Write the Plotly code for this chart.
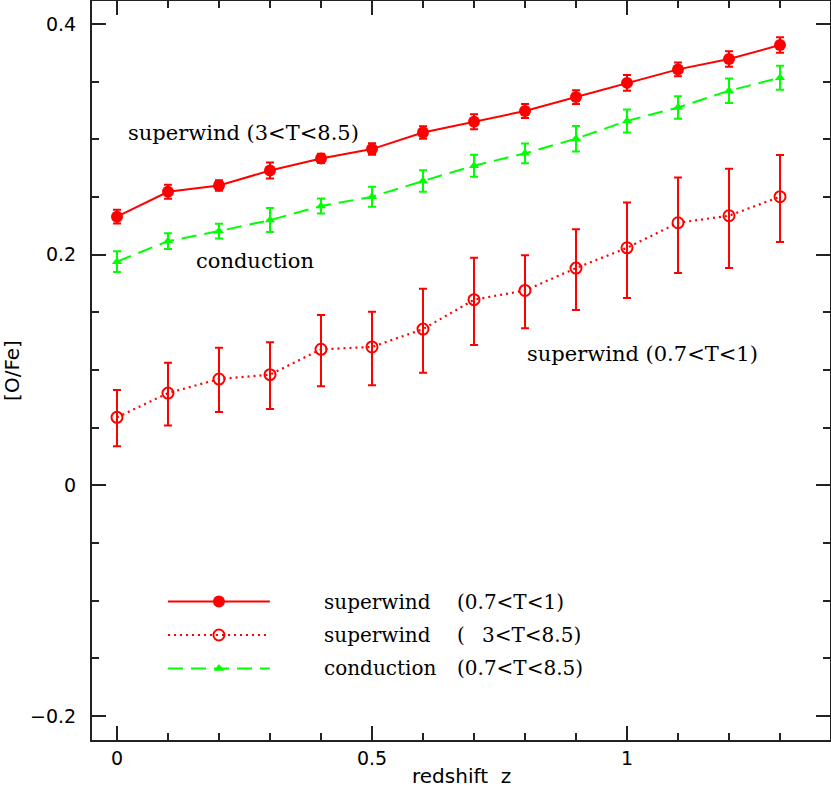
import plotly.graph_objects as go

# ---------------- data ----------------
redshift = [0.0, 0.1, 0.2, 0.3, 0.4, 0.5, 0.6, 0.7, 0.8, 0.9, 1.0, 1.1, 1.2, 1.3]

sw_cool = [0.233, 0.2546, 0.260, 0.273, 0.2835, 0.2916, 0.306, 0.3153, 0.3246,
           0.3367, 0.349, 0.3607, 0.3697, 0.3818]
sw_cool_err = [0.006, 0.006, 0.0045, 0.007, 0.004, 0.005, 0.0055, 0.0065, 0.006,
               0.006, 0.0068, 0.006, 0.0068, 0.0067]

sw_hot = [0.059, 0.080, 0.0922, 0.096, 0.118, 0.120, 0.1355, 0.161, 0.169,
          0.1884, 0.206, 0.2277, 0.2338, 0.2503]
sw_hot_err_plus = [0.0237, 0.0263, 0.0271, 0.028, 0.0297, 0.0306, 0.035, 0.0364,
                   0.0306, 0.0336, 0.0393, 0.0393, 0.0408, 0.0362]
sw_hot_err_minus = [0.0251, 0.028, 0.0286, 0.0297, 0.0321, 0.0332, 0.0379, 0.0393,
                    0.0327, 0.0364, 0.0436, 0.0436, 0.0453, 0.0393]

cond = [0.194, 0.2118, 0.2205, 0.230, 0.2422, 0.2503, 0.2639, 0.2772, 0.2879,
        0.3006, 0.316, 0.3277, 0.3422, 0.3535]
cond_err = [0.009, 0.0068, 0.0064, 0.0104, 0.0065, 0.0087, 0.0094, 0.0095,
            0.0085, 0.011, 0.01, 0.0098, 0.0107, 0.0104]

legend_names = ["superwind", "superwind", "conduction"]
legend_ranges = ["(0.7<T<1)", "3<T<8.5)", "(0.7<T<8.5)"]

RED = "#ff0000"
GREEN = "#00ff00"
SERIF = "DejaVu Serif"
SANS = "DejaVu Sans"

fig = go.Figure()

fig.add_trace(go.Scatter(
    x=redshift, y=sw_hot, mode="lines+markers",
    line=dict(color=RED, width=2.2, dash="2px,4px"),
    marker=dict(symbol="circle-open", size=11, color=RED, line=dict(width=2)),
    error_y=dict(type="data", array=sw_hot_err_plus, arrayminus=sw_hot_err_minus,
                 color=RED, thickness=2, width=4),
    showlegend=False))

fig.add_trace(go.Scatter(
    x=redshift, y=cond, mode="lines+markers",
    line=dict(color=GREEN, width=2, dash="15px,8px"),
    marker=dict(symbol="triangle-up", size=9, color=GREEN),
    error_y=dict(type="data", array=cond_err, color=GREEN, thickness=2, width=4),
    showlegend=False))

fig.add_trace(go.Scatter(
    x=redshift, y=sw_cool, mode="lines+markers",
    line=dict(color=RED, width=2),
    marker=dict(symbol="circle", size=12, color=RED),
    error_y=dict(type="data", array=sw_cool_err, color=RED, thickness=2, width=4),
    showlegend=False))

# ---------------- custom legend (layout decoration) ----------------
leg_rows_y = [0.1874, 0.1421, 0.0968]
leg_x0, leg_x1, leg_xm = 0.103, 0.241, 0.172
leg_styles = [dict(dash="solid", color=RED, width=2),
              dict(dash="2px,4px", color=RED, width=2.2),
              dict(dash="15px,8px", color=GREEN, width=2)]
leg_markers = [dict(symbol="circle", size=12, color=RED),
               dict(symbol="circle-open", size=11, color=RED, line=dict(width=2)),
               dict(symbol="triangle-up", size=9, color=GREEN)]
for yy, st, mk in zip(leg_rows_y, leg_styles, leg_markers):
    fig.add_shape(type="line", xref="paper", yref="paper",
                  x0=leg_x0, x1=leg_x1, y0=yy, y1=yy, line=st)
    fig.add_trace(go.Scatter(x=[leg_xm], y=[yy], xaxis="x2", yaxis="y2",
                             mode="markers", marker=mk, showlegend=False,
                             hoverinfo="skip"))

name_x = (322 - 92) / 738
paren_x = (455 - 92) / 738
end_x = (583 - 92) / 738
for i, yy in enumerate(leg_rows_y):
    fig.add_annotation(xref="paper", yref="paper", x=name_x, y=yy,
                       text=legend_names[i], showarrow=False,
                       xanchor="left", yanchor="middle",
                       font=dict(family=SERIF, size=20, color="black"))
    if i == 1:
        fig.add_annotation(xref="paper", yref="paper", x=paren_x, y=yy,
                           text="(", showarrow=False, xanchor="left",
                           yanchor="middle",
                           font=dict(family=SERIF, size=20, color="black"))
        fig.add_annotation(xref="paper", yref="paper", x=end_x, y=yy,
                           text=legend_ranges[i], showarrow=False,
                           xanchor="right", yanchor="middle",
                           font=dict(family=SERIF, size=20, color="black"))
    else:
        fig.add_annotation(xref="paper", yref="paper", x=paren_x, y=yy,
                           text=legend_ranges[i], showarrow=False,
                           xanchor="left", yanchor="middle",
                           font=dict(family=SERIF, size=20, color="black"))

# ---------------- in-plot labels ----------------
labels = [("superwind (3<T<8.5)", 0.0176, 0.3055),
          ("conduction", 0.151, 0.1945),
          ("superwind (0.7<T<1)", 0.799, 0.1139)]
for txt, lx, ly in labels:
    fig.add_annotation(x=lx, y=ly, text=txt, showarrow=False,
                       xanchor="left", yanchor="middle",
                       font=dict(family=SERIF, size=21, color="black"))

# x-axis title placed as annotation near the bottom edge
fig.add_annotation(xref="paper", yref="paper", x=0.5, y=-0.0675,
                   text="redshift  z", showarrow=False,
                   xanchor="center", yanchor="bottom",
                   font=dict(family=SANS, size=20, color="black"))

axis_common = dict(showline=True, linecolor="#222", linewidth=2, mirror="allticks",
                   ticks="inside", tickcolor="#222", tickwidth=2, ticklen=14,
                   showgrid=False, zeroline=False, automargin=False,
                   tickfont=dict(family=SANS, size=19, color="black"))

fig.update_layout(
    width=831, height=791,
    margin=dict(l=92, r=1, t=1, b=51, autoexpand=False),
    plot_bgcolor="white", paper_bgcolor="white",
    xaxis=dict(range=[-0.049, 1.398],
               tickvals=[0, 0.5, 1], ticktext=["0", "0.5", "1"],
               minor=dict(dtick=0.1, tick0=0, ticks="inside", ticklen=7,
                          tickwidth=2, tickcolor="#222"),
               **axis_common),
    yaxis=dict(range=[-0.2208, 0.42],
               tickvals=[-0.2, 0, 0.2, 0.4], ticktext=["\u22120.2", "0", "0.2", "0.4"],
               minor=dict(dtick=0.05, tick0=0, ticks="inside", ticklen=7,
                          tickwidth=2, tickcolor="#222"),
               ticklabelstandoff=10,
               title=dict(text="[O/Fe]", standoff=8,
                          font=dict(family=SANS, size=20, color="black")),
               **axis_common),
    xaxis2=dict(range=[0, 1], overlaying="x", visible=False, fixedrange=True),
    yaxis2=dict(range=[0, 1], overlaying="y", visible=False, fixedrange=True),
)

fig.write_html("out.html",
               config={"displayModeBar": False},
               post_script="document.body.style.margin='0';"
                           "document.body.style.overflow='hidden';")
